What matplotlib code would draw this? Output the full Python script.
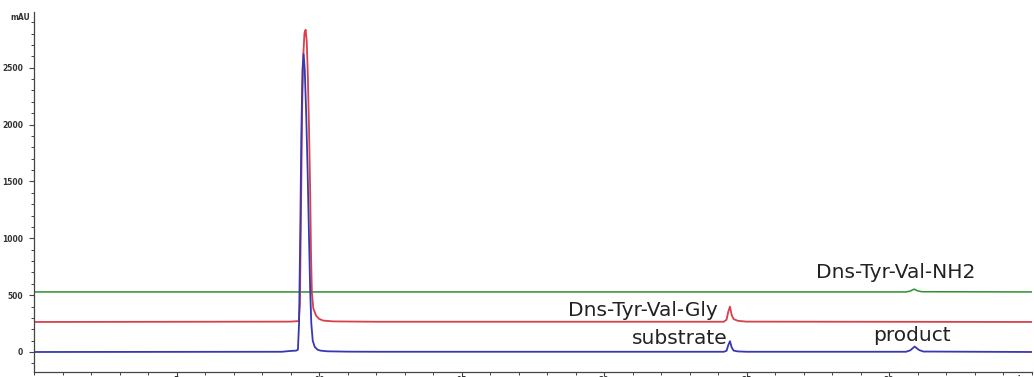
import matplotlib
matplotlib.use("Agg")
import matplotlib.pyplot as plt
from matplotlib.ticker import MultipleLocator

# ---- data (time in min, signal in mAU) ----
blue_t = [0, 8.7, 8.95, 9.05, 9.2, 9.26, 9.3, 9.34, 9.38, 9.42, 9.46, 9.5, 9.55, 9.6,
          9.65, 9.69, 9.73, 9.78, 9.85, 9.95, 10.05, 10.3, 11.0, 12, 24.2, 24.3, 24.36,
          24.42, 24.48, 24.55, 24.7, 25, 30.6, 30.75, 30.9, 31.05, 31.2, 35]
blue_v = [0, 2, 8, 10, 12, 20, 250, 1000, 1900, 2480, 2620, 2480, 2100, 1600,
          1000, 550, 250, 100, 45, 20, 12, 6, 3, 2, 2, 10, 60,
          95, 40, 12, 5, 2, 2, 15, 48, 18, 4, 0]
blue_offset = 0

red_t = [0, 9.0, 9.29, 9.33, 9.37, 9.41, 9.45, 9.49, 9.53, 9.57, 9.61, 9.65, 9.69, 9.72,
         9.75, 9.8, 9.9, 10.0, 10.15, 10.5, 12, 24.2, 24.3, 24.36, 24.42, 24.48,
         24.55, 24.7, 25.0, 35]
red_v = [0, 3, 8, 150, 1000, 1900, 2350, 2540, 2570, 2470, 2150, 1700, 1150, 600,
         260, 120, 55, 28, 12, 5, 2, 2, 20, 90, 135, 60,
         25, 10, 3, 0]
red_offset = 264

green_t = [0, 30.6, 30.75, 30.88, 31.0, 31.15, 35]
green_v = [0, 0, 8, 25, 10, 2, 0]
green_offset = 528

labels = ["Dns-Tyr-Val-NH2", "Dns-Tyr-Val-Gly", "substrate", "product"]
label_x = [30.25, 21.37, 22.67, 30.81]
label_y = [703, 369, 123, 149]

x_ticks = [5, 10, 15, 20, 25, 30]
y_ticks = [0, 500, 1000, 1500, 2000, 2500]

# ---- figure ----
fig = plt.figure(figsize=(10.34, 3.77), dpi=100)
ax = fig.add_axes([34 / 1034, 1 - 372 / 377, 1 - 34 / 1034 - 2.5 / 1034, (372 - 12) / 377])

ax.plot(green_t, [v + green_offset for v in green_v], color="#2f8f2f", lw=1.1)
ax.plot(red_t, [v + red_offset for v in red_v], color="#d8404c", lw=1.3)
ax.plot(blue_t, [v + blue_offset for v in blue_v], color="#3838b0", lw=1.3)

ax.set_xlim(0, 35)
ax.set_ylim(-176, 2990)

for s in ("top", "right"):
    ax.spines[s].set_visible(False)
for s in ("left", "bottom"):
    ax.spines[s].set_color("#444444")
    ax.spines[s].set_linewidth(0.9)

ax.set_xticks(x_ticks)
ax.set_yticks(y_ticks)
ax.xaxis.set_minor_locator(MultipleLocator(1))
ax.yaxis.set_minor_locator(MultipleLocator(100))
ax.tick_params(axis="both", which="major", length=3.5, width=0.8, colors="#444444",
               labelsize=5.5, pad=4.5)
ax.tick_params(axis="both", which="minor", length=2.2, width=0.7, colors="#444444")
ax.tick_params(axis="x", which="major", length=3, pad=0)
for lab in ax.get_xticklabels() + ax.get_yticklabels():
    lab.set_fontweight("bold")
    lab.set_color("#333333")

fig.text(10 / 1034, 1 - 17 / 377, "mAU", fontsize=5.5, color="#333333", va="center",
         fontweight="bold")
ax.text(34.55, -205, "min", fontsize=5.5, color="#333333", ha="center", va="top",
        clip_on=False, fontweight="bold")

for txt, x, y in zip(labels, label_x, label_y):
    ax.text(x, y, txt, fontsize=14.5, family="DejaVu Sans", color="#222222",
            ha="center", va="center")

fig.savefig("out.png", dpi=100)
